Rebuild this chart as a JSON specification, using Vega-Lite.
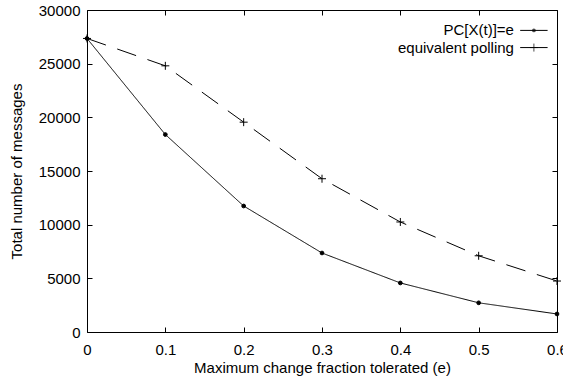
{
  "$schema": "https://vega.github.io/schema/vega-lite/v6.json",
  "width": 470,
  "height": 322,
  "autosize": {"type": "none"},
  "padding": {"left": 87, "top": 10, "right": 6, "bottom": 49},
  "background": "white",
  "config": {
    "view": {"stroke": "black", "strokeWidth": 1},
    "font": "Liberation Sans",
    "axis": {
      "domain": false,
      "grid": false,
      "tickColor": "black",
      "tickSize": -5,
      "labelColor": "black",
      "labelFont": "Liberation Sans",
      "labelFontSize": 15,
      "titleColor": "black",
      "titleFont": "Liberation Sans",
      "titleFontSize": 15,
      "titleFontWeight": "normal"
    }
  },
  "datasets": {
    "series": [
      {"e": 0.0, "messages": 27350, "series": "PC[X(t)]=e"},
      {"e": 0.1, "messages": 18400, "series": "PC[X(t)]=e"},
      {"e": 0.2, "messages": 11740, "series": "PC[X(t)]=e"},
      {"e": 0.3, "messages": 7360, "series": "PC[X(t)]=e"},
      {"e": 0.4, "messages": 4570, "series": "PC[X(t)]=e"},
      {"e": 0.5, "messages": 2720, "series": "PC[X(t)]=e"},
      {"e": 0.6, "messages": 1680, "series": "PC[X(t)]=e"},
      {"e": 0.0, "messages": 27350, "series": "equivalent polling"},
      {"e": 0.1, "messages": 24800, "series": "equivalent polling"},
      {"e": 0.2, "messages": 19550, "series": "equivalent polling"},
      {"e": 0.3, "messages": 14280, "series": "equivalent polling"},
      {"e": 0.4, "messages": 10250, "series": "equivalent polling"},
      {"e": 0.5, "messages": 7100, "series": "equivalent polling"},
      {"e": 0.6, "messages": 4750, "series": "equivalent polling"}
    ],
    "legend": [
      {"series": "PC[X(t)]=e"},
      {"series": "equivalent polling"}
    ]
  },
  "layer": [
    {
      "data": {"name": "series"},
      "mark": {"type": "line", "color": "black", "strokeWidth": 1},
      "encoding": {
        "x": {
          "field": "e", "type": "quantitative",
          "scale": {"domain": [0, 0.6], "nice": false, "zero": false},
          "axis": {"orient": "bottom", "values": [0, 0.1, 0.2, 0.3, 0.4, 0.5, 0.6], "format": ".1~f", "labelPadding": 15, "labelFlush": false, "title": "Maximum change fraction tolerated (e)", "titlePadding": 3}
        },
        "y": {
          "field": "messages", "type": "quantitative",
          "scale": {"domain": [0, 30000], "nice": false},
          "axis": {"orient": "left", "values": [0, 5000, 10000, 15000, 20000, 25000, 30000], "format": "d", "labelPadding": 12, "title": "Total number of messages", "titlePadding": 14}
        },
        "detail": {"field": "series"},
        "strokeDash": {
          "field": "series", "type": "nominal",
          "scale": {"domain": ["PC[X(t)]=e", "equivalent polling"], "range": [[1, 0], [20, 12]]},
          "legend": null
        }
      }
    },
    {
      "data": {"name": "series"},
      "mark": {"type": "point", "color": "black", "strokeWidth": 1, "opacity": 1},
      "encoding": {
        "x": {
          "field": "e", "type": "quantitative",
          "axis": {"orient": "top", "values": [0, 0.1, 0.2, 0.3, 0.4, 0.5, 0.6], "labels": false, "title": null}
        },
        "y": {
          "field": "messages", "type": "quantitative",
          "axis": {"orient": "right", "values": [0, 5000, 10000, 15000, 20000, 25000, 30000], "labels": false, "title": null}
        },
        "shape": {
          "field": "series", "type": "nominal",
          "scale": {"domain": ["PC[X(t)]=e", "equivalent polling"], "range": ["circle", "M-1,0H1M0,-1V1"]},
          "legend": null
        },
        "size": {
          "field": "series", "type": "nominal",
          "scale": {"domain": ["PC[X(t)]=e", "equivalent polling"], "range": [14, 64]},
          "legend": null
        },
        "fill": {
          "field": "series", "type": "nominal",
          "scale": {"domain": ["PC[X(t)]=e", "equivalent polling"], "range": ["black", "transparent"]},
          "legend": null
        }
      }
    },
    {
      "data": {"name": "legend"},
      "transform": [{"filter": "datum.series === 'PC[X(t)]=e'"}],
      "mark": {"type": "text", "align": "right", "baseline": "middle", "fontSize": 15, "font": "Liberation Sans", "color": "black"},
      "encoding": {
        "x": {"datum": 0.545, "type": "quantitative", "axis": null},
        "y": {"datum": 28100, "type": "quantitative", "axis": null},
        "text": {"field": "series"}
      }
    },
    {
      "data": {"name": "legend"},
      "transform": [{"filter": "datum.series === 'equivalent polling'"}],
      "mark": {"type": "text", "align": "right", "baseline": "middle", "fontSize": 15, "font": "Liberation Sans", "color": "black"},
      "encoding": {
        "x": {"datum": 0.545, "type": "quantitative", "axis": null},
        "y": {"datum": 26500, "type": "quantitative", "axis": null},
        "text": {"field": "series"}
      }
    },
    {
      "data": {"name": "legend"},
      "transform": [{"filter": "datum.series === 'PC[X(t)]=e'"}],
      "mark": {"type": "rule", "color": "black", "strokeWidth": 1},
      "encoding": {
        "x": {"datum": 0.553, "type": "quantitative", "axis": null},
        "x2": {"datum": 0.588},
        "y": {"datum": 28100, "type": "quantitative", "axis": null}
      }
    },
    {
      "data": {"name": "legend"},
      "transform": [{"filter": "datum.series === 'equivalent polling'"}],
      "mark": {"type": "rule", "color": "black", "strokeWidth": 1},
      "encoding": {
        "x": {"datum": 0.553, "type": "quantitative", "axis": null},
        "x2": {"datum": 0.588},
        "y": {"datum": 26500, "type": "quantitative", "axis": null}
      }
    },
    {
      "data": {"name": "legend"},
      "transform": [{"filter": "datum.series === 'PC[X(t)]=e'"}],
      "mark": {"type": "point", "shape": "circle", "size": 14, "filled": true, "color": "black"},
      "encoding": {
        "x": {"datum": 0.5705, "type": "quantitative", "axis": null},
        "y": {"datum": 28100, "type": "quantitative", "axis": null}
      }
    },
    {
      "data": {"name": "legend"},
      "transform": [{"filter": "datum.series === 'equivalent polling'"}],
      "mark": {"type": "point", "shape": "M-1,0H1M0,-1V1", "size": 64, "filled": false, "color": "black", "strokeWidth": 1},
      "encoding": {
        "x": {"datum": 0.5705, "type": "quantitative", "axis": null},
        "y": {"datum": 26500, "type": "quantitative", "axis": null}
      }
    }
  ],
  "resolve": {"axis": {"x": "independent", "y": "independent"}}
}
